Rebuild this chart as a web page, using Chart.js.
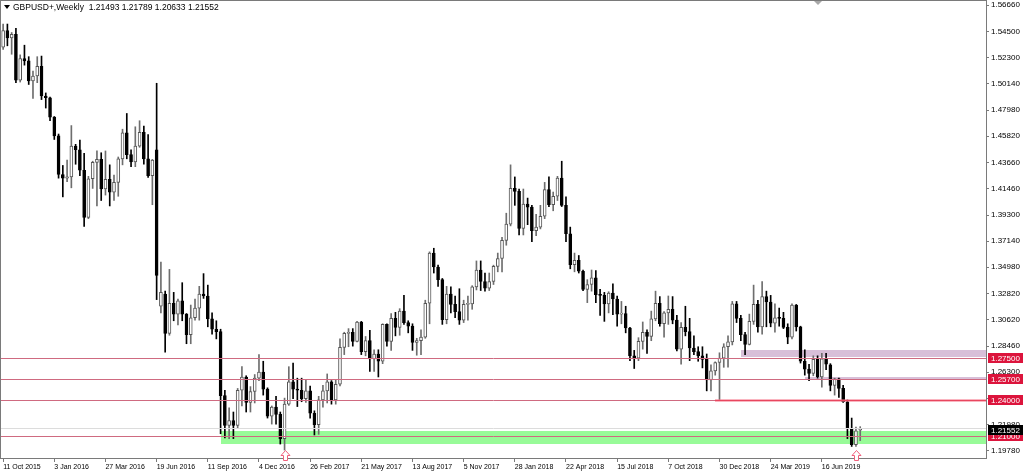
<!DOCTYPE html>
<html>
<head>
<meta charset="utf-8">
<script src="https://cdn.jsdelivr.net/npm/chart.js@4.4.1/dist/chart.umd.min.js"></script>
<style>
  html, body { margin: 0; padding: 0; background: #fff; }
  #wrap { width: 1024px; height: 474px; }
</style>
</head>
<body>
<div id="wrap"><canvas id="chart" width="1024" height="474"></canvas></div>
<script>
// GBPUSD weekly candles, 11 Oct 2015 .. 18 Aug 2019 (one row = 12 weeks)
const opens = [
  1.5318, 1.5455, 1.5395, 1.5425, 1.5045, 1.5225, 1.5205, 1.5040, 1.5080, 1.5160, 1.4915, 1.4900,
  1.4740, 1.4585, 1.4265, 1.4235, 1.4245, 1.4500, 1.4470, 1.4300, 1.3910, 1.4230, 1.4365, 1.4390,
  1.4145, 1.4225, 1.4120, 1.4200, 1.4395, 1.4610, 1.4430, 1.4370, 1.4500, 1.4615, 1.4395, 1.4255,
  1.4470, 1.3175, 1.3275, 1.2950, 1.3200, 1.3110, 1.3220, 1.3110, 1.2940, 1.3080, 1.3160, 1.3275,
  1.3260, 1.3070, 1.2985, 1.2965, 1.2435, 1.2190, 1.2230, 1.2190, 1.2480, 1.2590, 1.2380, 1.2470,
  1.2580, 1.2630, 1.2490, 1.2265, 1.2340, 1.2280, 1.2080, 1.2365, 1.2550, 1.2490, 1.2480, 1.2410,
  1.2475, 1.2290, 1.2195, 1.2400, 1.2475, 1.2550, 1.2400, 1.2530, 1.2835, 1.2950, 1.2960, 1.2885,
  1.3045, 1.2800, 1.2890, 1.2740, 1.2780, 1.2720, 1.3025, 1.2885, 1.3075, 1.3000, 1.3135, 1.3040,
  1.3010, 1.2875, 1.2890, 1.2920, 1.3200, 1.3615, 1.3500, 1.3395, 1.3065, 1.3275, 1.3190, 1.3130,
  1.3060, 1.3190, 1.3195, 1.3335, 1.3475, 1.3380, 1.3325, 1.3380, 1.3505, 1.3570, 1.3720, 1.3855,
  1.4150, 1.4125, 1.3820, 1.4020, 1.3995, 1.3800, 1.3830, 1.3920, 1.4140, 1.4015, 1.4085, 1.4235,
  1.4010, 1.3775, 1.3520, 1.3555, 1.3465, 1.3315, 1.3355, 1.3410, 1.3270, 1.3265, 1.3195, 1.3285,
  1.3235, 1.3110, 1.3115, 1.2995, 1.2765, 1.2745, 1.2885, 1.2960, 1.2925, 1.3070, 1.3200, 1.3030,
  1.3120, 1.3150, 1.3060, 1.2820, 1.3000, 1.2965, 1.2830, 1.2800, 1.2765, 1.2735, 1.2565, 1.2640,
  1.2710, 1.2745, 1.2840, 1.2880, 1.3195, 1.3075, 1.2940, 1.2860, 1.3050, 1.3190, 1.3005, 1.3255,
  1.3210, 1.3035, 1.3080, 1.3075, 1.3000, 1.2920, 1.3185, 1.3005, 1.2720, 1.2655, 1.2620, 1.2735,
  1.2590, 1.2740, 1.2690, 1.2520, 1.2575, 1.2495, 1.2385, 1.2165, 1.2030, 1.21493
];
const highs = [
  1.5509, 1.5510, 1.5440, 1.5475, 1.5255, 1.5335, 1.5240, 1.5120, 1.5240, 1.5245, 1.4940, 1.4905,
  1.4745, 1.4600, 1.4340, 1.4385, 1.4670, 1.4515, 1.4550, 1.4440, 1.4250, 1.4375, 1.4460, 1.4445,
  1.4460, 1.4345, 1.4260, 1.4410, 1.4640, 1.4770, 1.4470, 1.4660, 1.4710, 1.4665, 1.4595, 1.4390,
  1.5020, 1.3540, 1.3300, 1.3480, 1.3290, 1.3235, 1.3370, 1.3115, 1.3185, 1.3235, 1.3340, 1.3445,
  1.3350, 1.3120, 1.3055, 1.2985, 1.2480, 1.2335, 1.2300, 1.2495, 1.2675, 1.2600, 1.2510, 1.2610,
  1.2775, 1.2720, 1.2500, 1.2350, 1.2430, 1.2300, 1.2415, 1.2675, 1.2705, 1.2580, 1.2580, 1.2570,
  1.2515, 1.2310, 1.2430, 1.2520, 1.2615, 1.2560, 1.2565, 1.2905, 1.2960, 1.2990, 1.2990, 1.3050,
  1.3050, 1.2925, 1.2975, 1.2815, 1.2815, 1.3030, 1.3030, 1.3115, 1.3125, 1.3155, 1.3265, 1.3055,
  1.3030, 1.2910, 1.2980, 1.3225, 1.3625, 1.3655, 1.3515, 1.3405, 1.3340, 1.3335, 1.3260, 1.3320,
  1.3225, 1.3260, 1.3345, 1.3550, 1.3550, 1.3450, 1.3450, 1.3515, 1.3615, 1.3745, 1.3945, 1.4345,
  1.4245, 1.4145, 1.4145, 1.4070, 1.4010, 1.3935, 1.4010, 1.4200, 1.4245, 1.4120, 1.4250, 1.4375,
  1.4080, 1.3830, 1.3615, 1.3595, 1.3475, 1.3395, 1.3475, 1.3470, 1.3315, 1.3290, 1.3295, 1.3360,
  1.3260, 1.3215, 1.3175, 1.3000, 1.2810, 1.2915, 1.3045, 1.2980, 1.3135, 1.3300, 1.3255, 1.3130,
  1.3260, 1.3255, 1.3100, 1.3040, 1.3175, 1.3075, 1.2930, 1.2840, 1.2840, 1.2780, 1.2690, 1.2715,
  1.2790, 1.2865, 1.2930, 1.3215, 1.3215, 1.3100, 1.2960, 1.3110, 1.3350, 1.3225, 1.3380, 1.3300,
  1.3265, 1.3195, 1.3160, 1.3125, 1.3030, 1.3195, 1.3190, 1.3010, 1.2815, 1.2695, 1.2765, 1.2765,
  1.2785, 1.2785, 1.2700, 1.2580, 1.2580, 1.2520, 1.2400, 1.2250, 1.2175, 1.21789
];
const lows = [
  1.5300, 1.5330, 1.5260, 1.5025, 1.5030, 1.5170, 1.5010, 1.4895, 1.5025, 1.4885, 1.4815, 1.4710,
  1.4555, 1.4235, 1.4080, 1.4205, 1.4155, 1.4350, 1.4255, 1.3835, 1.3900, 1.4150, 1.4005, 1.4050,
  1.4095, 1.4005, 1.4050, 1.4085, 1.4345, 1.4395, 1.4330, 1.4330, 1.4490, 1.4350, 1.4240, 1.4015,
  1.3230, 1.3120, 1.2795, 1.2935, 1.3055, 1.3020, 1.3055, 1.2865, 1.2865, 1.3060, 1.3060, 1.3240,
  1.3005, 1.2945, 1.2905, 1.2120, 1.2085, 1.2080, 1.2080, 1.2165, 1.2350, 1.2300, 1.2300, 1.2375,
  1.2560, 1.2440, 1.2250, 1.2200, 1.2200, 1.2035, 1.1985, 1.2355, 1.2410, 1.2345, 1.2385, 1.2380,
  1.2250, 1.2110, 1.2115, 1.2340, 1.2375, 1.2365, 1.2365, 1.2515, 1.2775, 1.2840, 1.2845, 1.2880,
  1.2775, 1.2765, 1.2635, 1.2635, 1.2590, 1.2700, 1.2845, 1.2810, 1.2930, 1.2935, 1.3025, 1.2955,
  1.2810, 1.2770, 1.2775, 1.2910, 1.3030, 1.3450, 1.3340, 1.3025, 1.3030, 1.3120, 1.3080, 1.3025,
  1.3040, 1.3060, 1.3150, 1.3310, 1.3305, 1.3300, 1.3305, 1.3355, 1.3460, 1.3460, 1.3680, 1.3840,
  1.4010, 1.3765, 1.3765, 1.3850, 1.3710, 1.3760, 1.3815, 1.3900, 1.4000, 1.3965, 1.4050, 1.4000,
  1.3710, 1.3485, 1.3460, 1.3450, 1.3305, 1.3205, 1.3300, 1.3205, 1.3100, 1.3050, 1.3120, 1.3105,
  1.3010, 1.3030, 1.2955, 1.2725, 1.2660, 1.2725, 1.2820, 1.2785, 1.2890, 1.3055, 1.3010, 1.2920,
  1.3025, 1.3030, 1.2805, 1.2695, 1.2930, 1.2725, 1.2775, 1.2720, 1.2665, 1.2475, 1.2475, 1.2605,
  1.2400, 1.2670, 1.2670, 1.2855, 1.3040, 1.2890, 1.2775, 1.2855, 1.3025, 1.2960, 1.2945, 1.3005,
  1.3005, 1.2960, 1.3010, 1.2990, 1.2865, 1.2905, 1.2970, 1.2705, 1.2605, 1.2560, 1.2600, 1.2580,
  1.2505, 1.2650, 1.2475, 1.2440, 1.2420, 1.2380, 1.2080, 1.2015, 1.2015, 1.20633
];
const closes = [
  1.5455, 1.5395, 1.5425, 1.5045, 1.5225, 1.5205, 1.5040, 1.5080, 1.5160, 1.4915, 1.4900, 1.4740,
  1.4585, 1.4265, 1.4235, 1.4245, 1.4500, 1.4470, 1.4300, 1.3910, 1.4230, 1.4365, 1.4390, 1.4145,
  1.4225, 1.4120, 1.4200, 1.4395, 1.4610, 1.4430, 1.4370, 1.4500, 1.4615, 1.4395, 1.4255, 1.4385,
  1.3430, 1.3290, 1.2950, 1.3200, 1.3110, 1.3220, 1.3110, 1.2940, 1.3080, 1.3160, 1.3275, 1.3260,
  1.3070, 1.2985, 1.2965, 1.2435, 1.2190, 1.2230, 1.2190, 1.2480, 1.2590, 1.2380, 1.2470, 1.2580,
  1.2630, 1.2490, 1.2265, 1.2340, 1.2280, 1.2080, 1.2365, 1.2550, 1.2490, 1.2480, 1.2410, 1.2475,
  1.2290, 1.2195, 1.2400, 1.2475, 1.2550, 1.2400, 1.2530, 1.2835, 1.2950, 1.2960, 1.2885, 1.3045,
  1.2800, 1.2890, 1.2740, 1.2780, 1.2720, 1.3025, 1.2885, 1.3075, 1.3000, 1.3135, 1.3040, 1.3010,
  1.2875, 1.2890, 1.2920, 1.3200, 1.3615, 1.3500, 1.3395, 1.3065, 1.3275, 1.3190, 1.3130, 1.3060,
  1.3190, 1.3195, 1.3335, 1.3475, 1.3380, 1.3325, 1.3380, 1.3505, 1.3570, 1.3720, 1.3855, 1.4150,
  1.4125, 1.3820, 1.4020, 1.3995, 1.3800, 1.3830, 1.3920, 1.4140, 1.4015, 1.4085, 1.4235, 1.4010,
  1.3775, 1.3520, 1.3555, 1.3465, 1.3315, 1.3355, 1.3410, 1.3270, 1.3265, 1.3195, 1.3285, 1.3235,
  1.3110, 1.3115, 1.2995, 1.2765, 1.2745, 1.2885, 1.2960, 1.2925, 1.3070, 1.3200, 1.3030, 1.3120,
  1.3150, 1.3060, 1.2820, 1.3000, 1.2965, 1.2830, 1.2800, 1.2765, 1.2735, 1.2565, 1.2640, 1.2710,
  1.2745, 1.2840, 1.2880, 1.3195, 1.3075, 1.2940, 1.2860, 1.3050, 1.3190, 1.3005, 1.3255, 1.3210,
  1.3035, 1.3080, 1.3075, 1.3000, 1.2920, 1.3185, 1.3005, 1.2720, 1.2655, 1.2620, 1.2735, 1.2590,
  1.2740, 1.2695, 1.2520, 1.2575, 1.2495, 1.2385, 1.2165, 1.2030, 1.2145, 1.21552
];

const firstWeek = Date.UTC(2015, 9, 11);
const emptySlots = 29;                 // chart shift space on the right
const labelEvery = 12;
const yTickValues = [1.56660, 1.54500, 1.52300, 1.50140, 1.47980, 1.45820, 1.43660, 1.41460, 1.39300,
  1.37140, 1.34980, 1.32820, 1.30620, 1.28460, 1.26300, 1.24140, 1.21980, 1.19780];
const yMin = 1.19195, yMax = 1.57007;

const levelLines = [1.27500, 1.25700, 1.24000, 1.21000];
const greyLine = 1.21700;
const lastPrice = 1.21552;
const greenZone = { from: 51, lo: 1.2034, hi: 1.2145 };
const upperZone = { from: 173, lo: 1.2758, hi: 1.2811 };
const lowerZone = { from: 188, lo: 1.2566, hi: 1.2593 };
const redLine = { from: 167, price: 1.24000 };
const arrowBars = [66, 200];
const arrowPrice = 1.1988;
const titleText = 'GBPUSD+,Weekly  1.21493 1.21789 1.20633 1.21552';

const MONTHS = ['Jan', 'Feb', 'Mar', 'Apr', 'May', 'Jun', 'Jul', 'Aug', 'Sep', 'Oct', 'Nov', 'Dec'];
const nBars = closes.length;
const categories = [];
for (let i = 0; i < nBars + emptySlots; i++) {
  const d = new Date(firstWeek + i * 7 * 86400000);
  categories.push(d.getUTCDate() + ' ' + MONTHS[d.getUTCMonth()] + ' ' + d.getUTCFullYear());
}

const isBull = i => closes[i] >= opens[i];
const wickData = categories.map((c, i) => i < nBars ? [lows[i], highs[i]] : null);
const bodyData = categories.map((c, i) => i < nBars ? [opens[i], closes[i]] : null);
const wickColors = categories.map((c, i) => i < nBars && isBull(i) ? '#6e6e6e' : '#000000');
const bodyFill = categories.map((c, i) => i < nBars && isBull(i) ? '#ffffff' : '#000000');
const bodyBorder = categories.map((c, i) => i < nBars && isBull(i) ? '#555555' : '#000000');

const font = 'Liberation Sans';

const decor = {
  id: 'decor',
  beforeDatasetsDraw(chart) {
    const { ctx, chartArea: a, scales: { x, y } } = chart;
    const py = v => Math.round(y.getPixelForValue(v));
    const zone = (z, color) => {
      const x0 = Math.round(x.getPixelForValue(z.from));
      ctx.fillStyle = color;
      ctx.fillRect(x0, py(z.hi), a.right - x0, py(z.lo) - py(z.hi));
    };
    ctx.save();
    ctx.beginPath();
    ctx.rect(a.left, a.top, a.width, a.height);
    ctx.clip();
    zone(greenZone, '#98fb98');
    zone(upperZone, '#d8bfd8');
    zone(lowerZone, '#d8bfd8');
    ctx.restore();
  },
  afterDatasetsDraw(chart) {
    const { ctx, chartArea: a, scales: { x, y } } = chart;
    const py = v => Math.round(y.getPixelForValue(v)) + 0.5;
    ctx.save();
    ctx.beginPath();
    ctx.rect(a.left, a.top, a.width, a.height);
    ctx.clip();
    ctx.lineWidth = 1;
    ctx.strokeStyle = '#dcdcdc';
    ctx.beginPath();
    ctx.moveTo(a.left, py(greyLine));
    ctx.lineTo(a.right, py(greyLine));
    ctx.stroke();
    ctx.strokeStyle = '#cf6a80';
    levelLines.forEach(v => {
      ctx.beginPath();
      ctx.moveTo(a.left, py(v));
      ctx.lineTo(a.right, py(v));
      ctx.stroke();
    });
    const rx = Math.round(x.getPixelForValue(redLine.from));
    ctx.strokeStyle = 'rgba(245,120,140,0.55)';
    ctx.lineWidth = 3;
    ctx.beginPath();
    ctx.moveTo(rx, py(redLine.price));
    ctx.lineTo(a.right, py(redLine.price));
    ctx.stroke();
    ctx.strokeStyle = '#e8475f';
    ctx.lineWidth = 1;
    ctx.beginPath();
    ctx.moveTo(rx, py(redLine.price));
    ctx.lineTo(a.right, py(redLine.price));
    ctx.stroke();
    ctx.restore();
  },
  afterDraw(chart) {
    const { ctx, chartArea: a, scales: { x, y } } = chart;
    ctx.save();
    // frame
    ctx.strokeStyle = '#7a7a7a';
    ctx.lineWidth = 1;
    ctx.strokeRect(a.left - 0.5, a.top - 0.5, a.right - a.left + 1, a.bottom - a.top + 1);

    // price tags on the right scale
    const tag = (v, bg) => {
      const yy = Math.round(y.getPixelForValue(v));
      ctx.fillStyle = bg;
      ctx.fillRect(a.right + 2, yy - 5, 35, 10);
      ctx.fillStyle = '#ffffff';
      ctx.font = '8px "' + font + '"';
      ctx.textBaseline = 'middle';
      ctx.textAlign = 'left';
      ctx.fillText(v.toFixed(5), a.right + 5, yy + 0.5);
    };
    levelLines.forEach(v => tag(v, '#dc143c'));
    tag(lastPrice, '#000000');

    // up arrows under the lows
    arrowBars.forEach(i => {
      const cx = Math.round(x.getPixelForValue(i)) + 0.5;
      const top = Math.round(y.getPixelForValue(arrowPrice)) + 0.5;
      ctx.beginPath();
      ctx.moveTo(cx, top);
      ctx.lineTo(cx + 4.5, top + 5);
      ctx.lineTo(cx + 2, top + 5);
      ctx.lineTo(cx + 2, top + 10);
      ctx.lineTo(cx - 2, top + 10);
      ctx.lineTo(cx - 2, top + 5);
      ctx.lineTo(cx - 4.5, top + 5);
      ctx.closePath();
      ctx.fillStyle = '#ffffff';
      ctx.fill();
      ctx.strokeStyle = '#f0607c';
      ctx.stroke();
    });

    // title
    ctx.fillStyle = '#000000';
    ctx.beginPath();
    ctx.moveTo(4, 5);
    ctx.lineTo(10, 5);
    ctx.lineTo(7, 9);
    ctx.closePath();
    ctx.fill();
    ctx.font = '8.5px "' + font + '"';
    ctx.textBaseline = 'middle';
    ctx.textAlign = 'left';
    ctx.fillText(titleText, 13, 7.5);

    // chart shift marker
    const sx = Math.round(x.getPixelForValue(191));
    ctx.fillStyle = '#a8a8a8';
    ctx.beginPath();
    ctx.moveTo(sx - 4, a.top);
    ctx.lineTo(sx + 4, a.top);
    ctx.lineTo(sx, a.top + 4);
    ctx.closePath();
    ctx.fill();
    ctx.restore();
  }
};

new Chart(document.getElementById('chart'), {
  type: 'bar',
  data: {
    labels: categories,
    datasets: [
      {
        label: 'range',
        data: wickData,
        backgroundColor: wickColors,
        barThickness: 1,
        grouped: false,
        order: 2
      },
      {
        label: 'body',
        data: bodyData,
        backgroundColor: bodyFill,
        borderColor: bodyBorder,
        borderWidth: 1,
        borderSkipped: false,
        barThickness: 3,
        minBarLength: 1,
        grouped: false,
        order: 1
      }
    ]
  },
  plugins: [decor],
  options: {
    responsive: false,
    animation: false,
    devicePixelRatio: 1,
    layout: { padding: { left: 1, top: 1, right: 0, bottom: 0 } },
    plugins: { legend: { display: false }, tooltip: { enabled: false } },
    scales: {
      x: {
        type: 'category',
        offset: true,
        grid: { display: true, drawOnChartArea: false, drawTicks: true, tickLength: 4, color: '#7a7a7a', offset: false },
        border: { display: true, color: '#7a7a7a' },
        ticks: {
          autoSkip: false,
          maxRotation: 0,
          align: 'start',
          padding: 1,
          color: '#000000',
          font: { family: font, size: 7 }
        },
        afterBuildTicks(scale) {
          scale.ticks = scale.ticks.filter(t => t.value % labelEvery === 0 && t.value < nBars);
        },
        afterFit(scale) {
          scale.height = 16;
          scale.paddingLeft = 0;
          scale.paddingRight = 0;
        }
      },
      y: {
        position: 'right',
        min: yMin,
        max: yMax,
        grid: { display: true, drawOnChartArea: false, drawTicks: true, tickLength: 3, color: '#7a7a7a' },
        border: { display: true, color: '#7a7a7a' },
        ticks: {
          padding: 2,
          color: '#000000',
          font: { family: font, size: 8 },
          callback: v => Number(v).toFixed(5)
        },
        afterBuildTicks(scale) {
          scale.ticks = yTickValues.map(v => ({ value: v }));
        },
        afterFit(scale) {
          scale.width = 38;
          scale.paddingTop = 0;
          scale.paddingBottom = 0;
        }
      }
    }
  }
});
</script>
</body>
</html>
